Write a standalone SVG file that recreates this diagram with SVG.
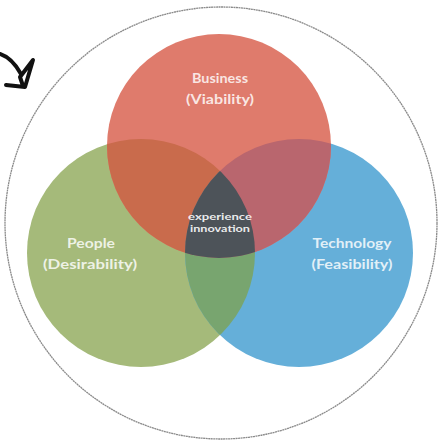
<svg xmlns="http://www.w3.org/2000/svg" width="442" height="445" viewBox="0 0 442 445">
<style>
.lbl{font-family:Lato,"Open Sans","Liberation Sans",sans-serif;font-weight:bold;font-size:12.5px;fill:#ffffff;fill-opacity:0.82;text-anchor:middle}
.sm{font-family:Lato,"Open Sans","Liberation Sans",sans-serif;font-weight:bold;font-size:9.5px;fill:#ffffff;fill-opacity:0.9;text-anchor:middle}
</style>
<defs>
<clipPath id="cR"><circle cx="219" cy="146" r="112"/></clipPath>
<clipPath id="cG"><circle cx="141" cy="253" r="114"/></clipPath>
<clipPath id="cB"><circle cx="299" cy="253" r="114"/></clipPath>
</defs>
<rect width="442" height="445" fill="#ffffff"/>
<circle cx="221" cy="223" r="216" fill="none" stroke="#8a8a8a" stroke-width="1.3" stroke-dasharray="2 0.5"/>
<g id="arrow" fill="none" stroke="#111111" stroke-width="4" stroke-linecap="round" stroke-linejoin="round">
<path d="M0,54 Q12,58 21,74"/>
<path d="M6,85 L25,87 L33,60 L20,77 L23,86"/>
</g>
<g id="people"><circle cx="141" cy="253" r="114" fill="#a5ba7a"/></g>
<g id="technology"><circle cx="299" cy="253" r="114" fill="#65afd9"/></g>
<g id="business"><circle cx="219" cy="146" r="112" fill="#df7b6c"/></g>
<g id="overlaps">
<g clip-path="url(#cG)"><circle cx="219" cy="146" r="112" fill="#c96b4c"/><circle cx="299" cy="253" r="114" fill="#78a56f"/></g>
<g clip-path="url(#cB)"><circle cx="219" cy="146" r="112" fill="#b9666e"/></g>
<g clip-path="url(#cB)"><g clip-path="url(#cG)"><circle cx="219" cy="146" r="112" fill="#4d5359"/></g></g>
</g>
<text class="lbl" x="220" y="83" textLength="56" lengthAdjust="spacingAndGlyphs">Business</text>
<text class="lbl" x="220" y="104" textLength="68" lengthAdjust="spacingAndGlyphs">(Viability)</text>
<text class="lbl" x="91" y="248" textLength="48" lengthAdjust="spacingAndGlyphs">People</text>
<text class="lbl" x="90" y="269" textLength="94" lengthAdjust="spacingAndGlyphs">(Desirability)</text>
<text class="lbl" x="352" y="248" textLength="79" lengthAdjust="spacingAndGlyphs">Technology</text>
<text class="lbl" x="352" y="269" textLength="81" lengthAdjust="spacingAndGlyphs">(Feasibility)</text>
<text class="sm" x="220" y="220" textLength="64" lengthAdjust="spacingAndGlyphs">experience</text>
<text class="sm" x="220" y="232" textLength="60" lengthAdjust="spacingAndGlyphs">innovation</text>
</svg>
